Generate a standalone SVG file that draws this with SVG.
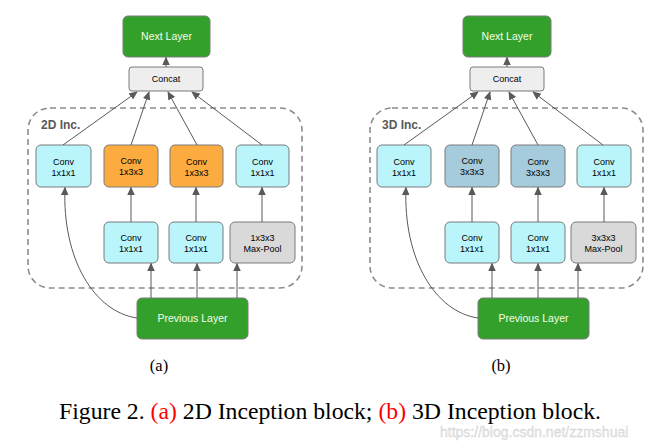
<svg xmlns="http://www.w3.org/2000/svg" width="659" height="442" viewBox="0 0 659 442">
<defs>
<marker id="ah" viewBox="0 0 10 10" refX="9" refY="5" markerWidth="8.5" markerHeight="8.5" orient="auto-start-reverse" markerUnits="userSpaceOnUse">
<path d="M0,0.5 L10,5 L0,9.5 z" fill="#595959"/>
</marker>
<style>
.n rect{stroke:#7a7a7a;stroke-width:1}
.t{font-family:"Liberation Sans",Arial,sans-serif;font-size:9px;fill:#000;text-anchor:middle}
.tw{font-family:"Liberation Sans",Arial,sans-serif;font-size:10.5px;fill:#f4ffe8;text-anchor:middle}
.green{fill:#33a02c}
.cyan{fill:#b9f5fb}
.orange{fill:#fbab3f}
.blue{fill:#a6cbdc}
.gray{fill:#d9d9d9}
.light{fill:#eeeeee}
.c path,.c line{stroke:#595959;stroke-width:1;fill:none;marker-end:url(#ah)}
.dash{fill:none;stroke:#8c8c8c;stroke-width:1.6;stroke-dasharray:6,4}
.lbl{font-family:"Liberation Sans",Arial,sans-serif;font-size:12px;font-weight:bold;fill:#595959}
.cap{font-family:"Liberation Serif","Times New Roman",serif;fill:#000}
</style>
</defs>
<rect width="659" height="442" fill="#fff"/>

<!-- Panel (a) -->
<g id="panel-a">
<rect class="dash" x="28" y="108" width="274" height="180" rx="22"/>
<text class="lbl" x="41" y="129">2D Inc.</text>
<g id="a-next" class="n"><rect class="green" x="123" y="16" width="87" height="41" rx="5"/><text class="tw" x="166.5" y="40">Next Layer</text></g>
<g id="a-concat" class="n"><rect class="light" x="129" y="67" width="74" height="24" rx="3"/><text class="t" x="166" y="82">Concat</text></g>
<g id="a-c1" class="n"><rect class="cyan" x="36" y="145" width="55" height="42" rx="5"/><text class="t" x="63.5" y="165">Conv</text><text class="t" x="63.5" y="176">1x1x1</text></g>
<g id="a-c2" class="n"><rect class="orange" x="104" y="145" width="54" height="42" rx="5"/><text class="t" x="131" y="164">Conv</text><text class="t" x="131" y="175">1x3x3</text></g>
<g id="a-c3" class="n"><rect class="orange" x="170" y="145" width="53" height="42" rx="5"/><text class="t" x="196.5" y="165">Conv</text><text class="t" x="196.5" y="176">1x3x3</text></g>
<g id="a-c4" class="n"><rect class="cyan" x="236" y="145" width="53" height="42" rx="5"/><text class="t" x="262.5" y="165">Conv</text><text class="t" x="262.5" y="176">1x1x1</text></g>
<g id="a-b2" class="n"><rect class="cyan" x="104" y="222" width="54" height="41" rx="5"/><text class="t" x="131" y="241">Conv</text><text class="t" x="131" y="252">1x1x1</text></g>
<g id="a-b3" class="n"><rect class="cyan" x="169" y="222" width="54" height="41" rx="5"/><text class="t" x="196" y="241">Conv</text><text class="t" x="196" y="252">1x1x1</text></g>
<g id="a-pool" class="n"><rect class="gray" x="230" y="222" width="65" height="41" rx="5"/><text class="t" x="262.5" y="241">1x3x3</text><text class="t" x="262.5" y="252">Max-Pool</text></g>
<g id="a-prev" class="n"><rect class="green" x="137" y="298" width="111" height="41" rx="5"/><text class="tw" x="192.5" y="322">Previous Layer</text></g>
<g id="a-conn" class="c">
<line x1="166" y1="67" x2="166" y2="57.5"/>
<line x1="63" y1="145" x2="137" y2="92"/>
<line x1="131" y1="145" x2="149" y2="92"/>
<line x1="197" y1="145" x2="168" y2="92"/>
<line x1="262" y1="145" x2="192" y2="92"/>
<line x1="131" y1="222" x2="131" y2="187.5"/>
<line x1="196" y1="222" x2="196" y2="187.5"/>
<line x1="262" y1="222" x2="262" y2="187.5"/>
<line x1="151" y1="298" x2="151" y2="263.5"/>
<line x1="197" y1="298" x2="197" y2="263.5"/>
<line x1="237" y1="298" x2="237" y2="263.5"/>
<path d="M137,318 C95,312 62,260 65,187.5"/>
</g>
<text class="cap" x="159" y="371" font-size="16.5" text-anchor="middle">(a)</text>
</g>

<!-- Panel (b) -->
<g id="panel-b">
<rect class="dash" x="370" y="108" width="273" height="180" rx="22"/>
<text class="lbl" x="382" y="129">3D Inc.</text>
<g id="b-next" class="n"><rect class="green" x="463" y="16" width="88" height="41" rx="5"/><text class="tw" x="507" y="40">Next Layer</text></g>
<g id="b-concat" class="n"><rect class="light" x="470" y="67" width="74" height="24" rx="3"/><text class="t" x="507" y="82">Concat</text></g>
<g id="b-c1" class="n"><rect class="cyan" x="377" y="145" width="54" height="42" rx="5"/><text class="t" x="404" y="165">Conv</text><text class="t" x="404" y="176">1x1x1</text></g>
<g id="b-c2" class="n"><rect class="blue" x="445" y="145" width="54" height="42" rx="5"/><text class="t" x="472" y="164">Conv</text><text class="t" x="472" y="175">3x3x3</text></g>
<g id="b-c3" class="n"><rect class="blue" x="511" y="145" width="54" height="42" rx="5"/><text class="t" x="538" y="165">Conv</text><text class="t" x="538" y="176">3x3x3</text></g>
<g id="b-c4" class="n"><rect class="cyan" x="577" y="145" width="54" height="42" rx="5"/><text class="t" x="604" y="165">Conv</text><text class="t" x="604" y="176">1x1x1</text></g>
<g id="b-b2" class="n"><rect class="cyan" x="445" y="222" width="54" height="41" rx="5"/><text class="t" x="472" y="241">Conv</text><text class="t" x="472" y="252">1x1x1</text></g>
<g id="b-b3" class="n"><rect class="cyan" x="511" y="222" width="54" height="41" rx="5"/><text class="t" x="538" y="241">Conv</text><text class="t" x="538" y="252">1x1x1</text></g>
<g id="b-pool" class="n"><rect class="gray" x="571" y="222" width="65" height="41" rx="5"/><text class="t" x="603.5" y="241">3x3x3</text><text class="t" x="603.5" y="252">Max-Pool</text></g>
<g id="b-prev" class="n"><rect class="green" x="478" y="298" width="111" height="41" rx="5"/><text class="tw" x="533.5" y="322">Previous Layer</text></g>
<g id="b-conn" class="c">
<line x1="507" y1="67" x2="507" y2="57.5"/>
<line x1="404" y1="145" x2="478" y2="92"/>
<line x1="472" y1="145" x2="490" y2="92"/>
<line x1="538" y1="145" x2="509" y2="92"/>
<line x1="603" y1="145" x2="533" y2="92"/>
<line x1="472" y1="222" x2="472" y2="187.5"/>
<line x1="538" y1="222" x2="538" y2="187.5"/>
<line x1="604" y1="222" x2="604" y2="187.5"/>
<line x1="492" y1="298" x2="492" y2="263.5"/>
<line x1="538" y1="298" x2="538" y2="263.5"/>
<line x1="578" y1="298" x2="578" y2="263.5"/>
<path d="M478,318 C436,312 403,260 406,187.5"/>
</g>
<text class="cap" x="501" y="371" font-size="16.5" text-anchor="middle">(b)</text>
</g>

<text class="cap" x="59" y="419" font-size="23" textLength="542" lengthAdjust="spacingAndGlyphs">Figure 2. <tspan fill="#ff0000">(a)</tspan> 2D Inception block; <tspan fill="#ff0000">(b)</tspan> 3D Inception block.</text>
<text x="440" y="437" font-family="'Liberation Sans',Arial,sans-serif" font-size="14" fill="#e4e4e4" stroke="#d2d2d2" stroke-width="0.3">https://blog.csdn.net/zzmshuai</text>
</svg>
